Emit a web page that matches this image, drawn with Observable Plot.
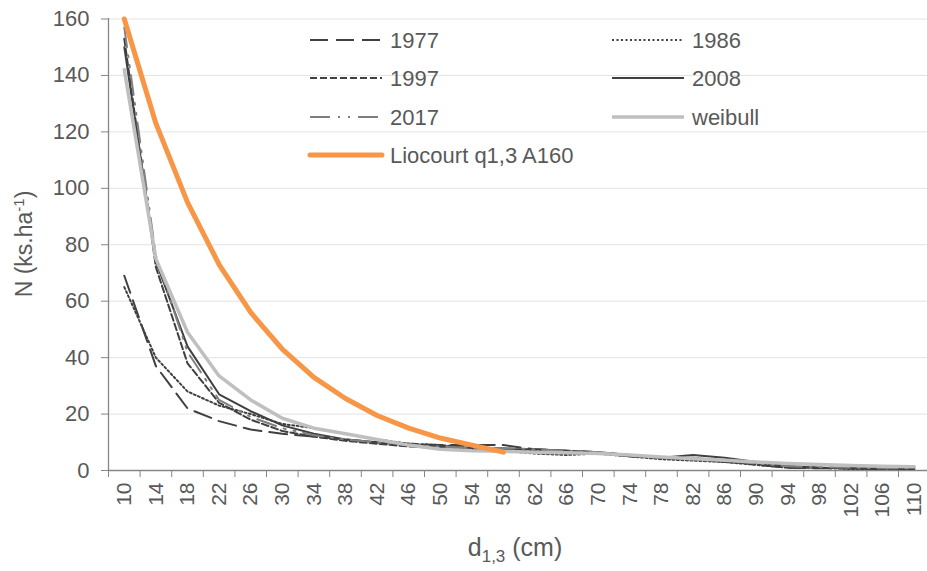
<!DOCTYPE html>
<html>
<head>
<meta charset="utf-8">
<script src="https://cdn.jsdelivr.net/npm/d3@7"></script>
<script src="https://cdn.jsdelivr.net/npm/@observablehq/plot@0.6"></script>
<style>
  html, body { margin: 0; padding: 0; background: #fff; }
  #chart svg { display: block; }
</style>
</head>
<body>
<div id="chart"></div>
<script>
// Diameter classes (cm)
const diameters = [10,14,18,22,26,30,34,38,42,46,50,54,58,62,66,70,74,78,82,86,90,94,98,102,106,110];
// Series values (N, trees per ha)
const y1977   = [69,37,22,17.5,14.5,13,12,11,10,9.5,9,9,9,7.5,7,6.5,5.5,4.5,4,3.5,2,1,0.8,0.8,0.5,0.5];
const y1986   = [65,40,28,23,20,16.5,15,13,11,9.5,9,8,7,6,5.5,6,5,4,3.5,3,2,1,1,0.5,0.5,0.5];
const y1997   = [153,72,38,24,18,14,12,10.5,9.5,8.5,8,7.5,7,7,6.5,6,5,4.5,4,3,2.5,1.5,1,0.8,0.5,0.5];
const y2008   = [150,74,44,27,21,16,13,11,10,9,8.5,8,7.5,7.5,7,6.5,5.5,4.5,5.5,4.5,3,1.5,1,0.8,0.8,0.8];
const y2017   = [157,76,42,25,19,15,12.5,11,10,9,8.5,8,8,7.5,7,6.5,5.5,4.5,4.5,3.5,2.5,1.5,1.2,1,0.8,0.8];
const weibull = [142,75,49,33.5,25,18.5,15,13,11,9,7.5,7,6.8,6.5,6.3,6,5.5,4.8,4.2,3.6,3,2.5,2.1,1.8,1.5,1.3];
const liocourt = [160,123,95,73,56,43,33,25.5,19.5,15,11.5,9,6.5];
// Axis ticks
const yTicks = [0,20,40,60,80,100,120,140,160];
const xBoundaries = d3.range(8, 113, 4);

const seriesNames = ["1977","1986","1997","2008","2017","weibull","Liocourt q1,3 A160"];
const seriesValues = [y1977, y1986, y1997, y2008, y2017, weibull, liocourt];
const styles = {
  "1977":   {stroke:"#404040", strokeWidth:2,   dash:"18,8"},
  "1986":   {stroke:"#404040", strokeWidth:2,   dash:"2,2.5"},
  "1997":   {stroke:"#404040", strokeWidth:2,   dash:"7,3"},
  "2008":   {stroke:"#404040", strokeWidth:2,   dash:null},
  "2017":   {stroke:"#7f7f7f", strokeWidth:2,   dash:"20,8,2,8,2,8"},
  "weibull":{stroke:"#bfbfbf", strokeWidth:3.5, dash:null},
  "Liocourt q1,3 A160": {stroke:"#f79646", strokeWidth:5, dash:null}
};

const data = seriesNames.map((name, i) =>
  seriesValues[i].map((v, j) => ({series: name, d: diameters[j], n: v}))
);

const FONT = "'Liberation Sans', Arial, sans-serif";
const TEXT = "#595959";
const AXIS = "#868686";

const lineMarks = data.map((rows, i) => {
  const s = styles[seriesNames[i]];
  return Plot.line(rows, {
    x: "d", y: "n",
    stroke: s.stroke, strokeWidth: s.strokeWidth,
    strokeDasharray: s.dash || undefined,
    strokeLinejoin: "round"
  });
});

const chart = Plot.plot({
  width: 927,
  height: 571,
  marginLeft: 108,
  marginTop: 18,
  marginBottom: 101,
  marginRight: 0,
  style: {fontFamily: FONT, fontSize: "21px", color: TEXT, background: "#fff", overflow: "visible"},
  x: {type: "linear", domain: [xBoundaries[0], xBoundaries[xBoundaries.length - 1]], range: [108, 929.6]},
  y: {domain: [yTicks[0], yTicks[yTicks.length - 1]], range: [470, 18.5]},
  marks: [
    Plot.gridY(yTicks.slice(1), {stroke: "#e3e3e3", strokeOpacity: 1, strokeWidth: 1}),
    Plot.ruleY([yTicks[0]], {stroke: AXIS, strokeWidth: 1.3}),
    Plot.ruleX([xBoundaries[0]], {stroke: AXIS, strokeWidth: 1.3}),
    Plot.axisY({ticks: yTicks, tickSize: 7, tickPadding: 12, stroke: AXIS, fill: TEXT, fontSize: 22, label: null}),
    Plot.axisX({ticks: xBoundaries, tickSize: 7, tickFormat: () => "", stroke: AXIS, label: null}),
    Plot.axisX({ticks: diameters, tickSize: 0, tickRotate: -90, tickPadding: 12, fill: TEXT, fontSize: 21, label: null}),
    ...lineMarks
  ]
});

document.getElementById("chart").appendChild(chart);

// Axis titles with sub/superscripts
const svg = d3.select(chart);
const yl = svg.append("text")
  .attr("transform", "translate(32,244) rotate(-90)")
  .attr("text-anchor", "middle")
  .attr("font-family", FONT).attr("font-size", 23).attr("fill", TEXT);
yl.append("tspan").text("N (ks.ha");
yl.append("tspan").attr("dy", -8).attr("font-size", 15).text("-1");
yl.append("tspan").attr("dy", 8).text(")");

const xl = svg.append("text")
  .attr("x", 515).attr("y", 556)
  .attr("text-anchor", "middle")
  .attr("font-family", FONT).attr("font-size", 25).attr("fill", TEXT);
xl.append("tspan").text("d");
xl.append("tspan").attr("dy", 6).attr("font-size", 17).text("1,3");
xl.append("tspan").attr("dy", -6).text(" (cm)");

// Legend inside plot area
const legendPos = [
  {x: 310, y: 40}, {x: 612, y: 40},
  {x: 310, y: 78}, {x: 612, y: 78},
  {x: 310, y: 117}, {x: 612, y: 117},
  {x: 310, y: 155}
];
const lg = svg.append("g").attr("text-anchor", "start");
seriesNames.forEach((name, i) => {
  const p = legendPos[i];
  const s = styles[name];
  lg.append("line")
    .attr("x1", p.x).attr("x2", p.x + 72)
    .attr("y1", p.y).attr("y2", p.y)
    .attr("stroke", s.stroke).attr("stroke-width", s.strokeWidth)
    .attr("stroke-dasharray", s.dash)
    .attr("stroke-linecap", name.startsWith("Liocourt") ? "round" : "butt");
  lg.append("text")
    .attr("x", p.x + 80).attr("y", p.y).attr("dy", "0.36em")
    .attr("text-anchor", "start")
    .attr("font-family", FONT).attr("font-size", 22).attr("fill", TEXT)
    .text(name);
});
</script>
</body>
</html>
